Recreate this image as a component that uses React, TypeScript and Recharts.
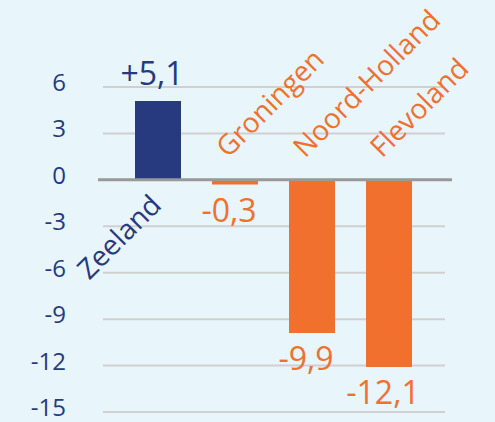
import React from 'react';
import { BarChart, Bar, XAxis, YAxis, CartesianGrid, ReferenceLine, Cell, LabelList } from 'recharts';

const provinces = ['Zeeland', 'Groningen', 'Noord-Holland', 'Flevoland'];
const changes = [5.1, -0.3, -9.9, -12.1];
const yTicks = [-15, -12, -9, -6, -3, 0, 3, 6];

const NAVY = '#27397f';
const ORANGE = '#f2702d';
const FONT = '"Open Sans", "Noto Sans", sans-serif';

const data = provinces.map((name, i) => ({ name, value: changes[i] }));

const colorFor = (v: number) => (v >= 0 ? NAVY : ORANGE);
const fmt = (v: number) => (v > 0 ? '+' : '') + v.toFixed(1).replace('.', ',');

function ValueLabel(props: any) {
  const { x, y, width, height, index } = props;
  const v = changes[index];
  const top = Math.min(y, y + height);
  const bottom = Math.max(y, y + height);
  const cx = x + width / 2 - 6;
  const ty = v >= 0 ? top - 16 : bottom + 37;
  return (
    <text x={cx} y={ty} textAnchor="middle" fill={colorFor(v)} fontSize={32} fontFamily={FONT}>
      {fmt(v)}
    </text>
  );
}

function NameLabel(props: any) {
  const { x, y, width, height, index } = props;
  const v = changes[index];
  const zero = v >= 0 ? Math.max(y, y + height) : Math.min(y, y + height);
  const cx = x + width / 2;
  const ax = v >= 0 ? cx + 5 : cx - 7;
  const ay = v >= 0 ? zero + 27 : zero - 21;
  return (
    <text
      x={ax}
      y={ay}
      textAnchor={v >= 0 ? 'end' : 'start'}
      transform={`rotate(-45 ${ax} ${ay})`}
      fill={colorFor(v)}
      fontSize={28}
      fontFamily={FONT}
    >
      {provinces[index]}
    </text>
  );
}

function YTick(props: any) {
  const { y, payload } = props;
  return (
    <text x={66} y={y} dy={4} textAnchor="end" fill={NAVY} fontSize={24} fontFamily={FONT}>
      {payload.value}
    </text>
  );
}

function ZeroLine(props: any) {
  const { x1, x2, y1 } = props;
  return <line x1={x1 - 5} x2={x2 + 7} y1={y1} y2={y1} stroke="#999999" strokeWidth={3} />;
}

export default function App() {
  return (
    <div style={{ position: 'fixed', left: 0, top: 0, width: 495, height: 422, background: '#e8f5fa' }}>
      <BarChart
        width={495}
        height={422}
        data={data}
        margin={{ top: 87, right: 50, bottom: 10, left: 0 }}
        barSize={46}
      >
        <CartesianGrid vertical={false} stroke="#d0d0d0" strokeWidth={2} />
        <XAxis dataKey="name" hide padding={{ left: 16, right: 18 }} />
        <YAxis
          width={103}
          domain={[-15, 6]}
          ticks={yTicks}
          axisLine={false}
          tickLine={false}
          tick={<YTick />}
          interval={0}
        />
        <Bar dataKey="value" isAnimationActive={false}>
          {data.map((d, i) => (
            <Cell key={`c-${i}`} fill={colorFor(d.value)} />
          ))}
          <LabelList dataKey="value" content={<ValueLabel />} />
          <LabelList dataKey="name" content={<NameLabel />} />
        </Bar>
        <ReferenceLine y={0} shape={<ZeroLine />} />
      </BarChart>
    </div>
  );
}
